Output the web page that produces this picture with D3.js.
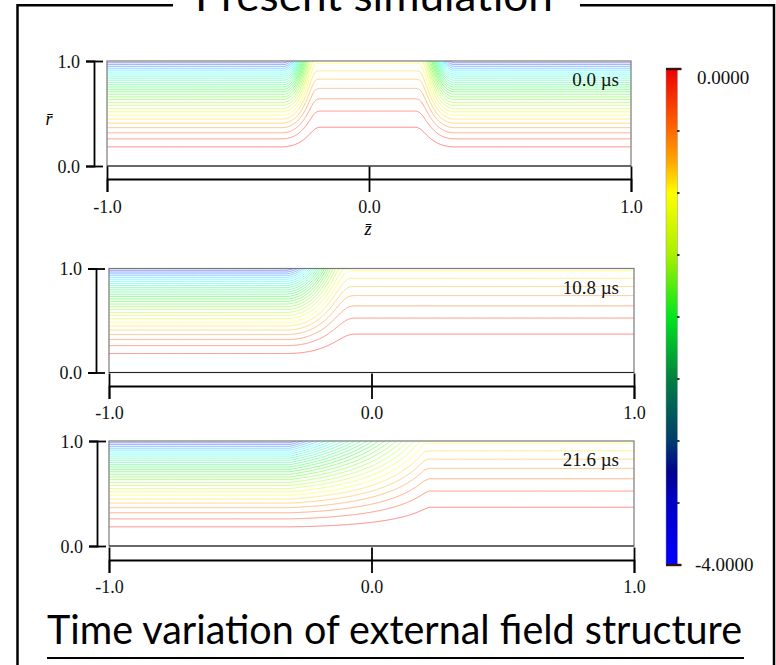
<!DOCTYPE html>
<html><head><meta charset="utf-8">
<script src="https://cdn.jsdelivr.net/npm/d3@7"></script>
<style>body{margin:0;background:#fff} svg{display:block}</style>
</head><body>
<script>
// ---------------- data ----------------
const titleText = "Present simulation";
const footerText = "Time variation of external field structure";
const timeLabels = ["0.0 µs", "10.8 µs", "21.6 µs"];
const xTicks = [-1, 0, 1];
const yTicks = [0, 1];
// contour levels of the flux function (colour-bar units)
const levelValues = [-0.133,-0.267,-0.4,-0.533,-0.667,-0.8,-0.933,-1.067,-1.2,-1.333,-1.467,-1.6,-1.733,-1.867,-2.0,-2.133,-2.267,-2.4,-2.533,-2.667,-2.8,-2.933,-3.067,-3.2,-3.333,-3.467,-3.6,-3.733,-3.867];
// field strength (|psi| at r=1) outside and inside the compressed region
const outerField = 4.0;
const innerField = 0.975;
// field transitions along z, near the axis and near the wall: [zStart, zEnd, from, to]
const axisSteps0 = [[-0.335, -0.185, outerField, innerField], [0.175, 0.325, innerField, outerField]];
const wallSteps0 = [[-0.325, -0.2, outerField, innerField], [0.19, 0.325, innerField, outerField]];
const axisSteps1 = [[-0.32, -0.06, outerField, innerField]];
const wallSteps1 = [[-0.33, -0.08, outerField, innerField]];
const axisSteps2 = [[-0.33, 0.22, outerField, innerField]];
const wallSteps2 = [[-0.31, 0.2, outerField, innerField]];
const axisEase = ["sinInOut", "sinInOut", "sinIn"];
const wallEase = ["sinInOut", "sinInOut", "linear"];
// colour bar
const colorbarValues = [0, -0.5, -0.75, -1.0, -1.5, -2.0, -2.5, -3.0, -3.25, -3.5, -4.0];
const colorbarColors = ["#ee0000", "#ff6a00", "#ffa800", "#ffff00", "#a8f000", "#00e61e", "#008040", "#003c6e", "#000090", "#0000c8", "#0000ff"];
const colorbarTicks = [0, -0.5, -1, -1.5, -2, -2.5, -3, -3.5, -4];
const colorbarLabels = ["0.0000", "-4.0000"];
// line hue per level
const hueLevels = [-0.133, -0.533, -0.933, -2.0, -3.2, -3.867];
const hueValues = [0, 30, 60, 120, 180, 238];

// ---------------- layout ----------------
const W = 776, H = 665;
const panels = [
  {left:107, right:631, top:61, bottom:166, yAxisX:94, xAxisY:179, labelDy:34, axis:axisSteps0, wall:wallSteps0},
  {left:109, right:634, top:268.5, bottom:372.5, yAxisX:96, xAxisY:386, labelDy:33, axis:axisSteps1, wall:wallSteps1},
  {left:109, right:634, top:441, bottom:546, yAxisX:97, xAxisY:560, labelDy:33, axis:axisSteps2, wall:wallSteps2}
];
const serif = "'Liberation Serif','Times New Roman',serif";
const sans = "Lato,'Open Sans',sans-serif";
const easeMap = {sinInOut: d3.easeSinInOut, sinIn: d3.easeSinIn, linear: d3.easeLinear};

const svg = d3.select("body").append("svg").attr("width", W).attr("height", H);
svg.append("rect").attr("width", W).attr("height", H).attr("fill", "#fff");

// frame + title
svg.append("path").attr("d", "M17.5,665 V5.3 H173").attr("fill", "none").attr("stroke", "#000").attr("stroke-width", 2.5);
svg.append("path").attr("d", "M580,5.3 H774 V665").attr("fill", "none").attr("stroke", "#000").attr("stroke-width", 2.5);
svg.append("text").attr("x", 195).attr("y", 11).attr("textLength", 358).attr("lengthAdjust", "spacingAndGlyphs")
  .attr("font-family", sans).attr("font-size", 42).attr("fill", "#000").text(titleText);

// footer
svg.append("text").attr("x", 47).attr("y", 644).attr("textLength", 695).attr("lengthAdjust", "spacingAndGlyphs")
  .attr("font-family", sans).attr("font-size", 40).attr("fill", "#000").text(footerText);
svg.append("line").attr("x1", 47).attr("x2", 744).attr("y1", 658).attr("y2", 658).attr("stroke", "#000").attr("stroke-width", 2);

const hue = d3.scaleLinear().domain(hueLevels).range(hueValues);

function profile(steps, ease) {
  const e = easeMap[ease];
  return z => {
    let v = steps[0][2];
    for (const [z0, z1, a, b] of steps) {
      if (z >= z1) { v = b; continue; }
      if (z > z0) { v = a + (b - a) * e((z - z0) / (z1 - z0)); }
      break;
    }
    return v;
  };
}

const defs = svg.append("defs");

panels.forEach((p, i) => {
  const x = d3.scaleLinear().domain([-1, 1]).range([p.left, p.right]);
  const y = d3.scaleLinear().domain([0, 1]).range([p.bottom, p.top]);
  const g = svg.append("g");
  const clipId = "clip" + i;
  defs.append("clipPath").attr("id", clipId).append("rect")
    .attr("x", p.left).attr("y", p.top).attr("width", p.right - p.left).attr("height", p.bottom - p.top);

  const bAxis = profile(p.axis, axisEase[i]);
  const bWall = profile(p.wall, wallEase[i]);
  const zs = d3.range(-1, 1.00001, 0.0025);

  const lineGen = d3.line().defined(d => d.r !== null).x(d => x(d.z)).y(d => y(d.r));
  const cg = g.append("g").attr("clip-path", `url(#${clipId})`);
  levelValues.forEach(lv => {
    const target = -lv;
    const pts = zs.map(z => {
      const ba = bAxis(z), bw = bWall(z);
      const f = r => (ba * (1 - r) + bw * r) * r * r - target;
      if (f(1) < 0) return {z, r: null};
      let lo = 0, hi = 1;
      for (let k = 0; k < 40; k++) { const m = (lo + hi) / 2; if (f(m) < 0) lo = m; else hi = m; }
      return {z, r: (lo + hi) / 2};
    });
    // extend each segment to the wall where the line leaves the domain
    const out = pts.map((d, j) => {
      if (d.r !== null) return d;
      const prev = pts[j - 1], next = pts[j + 1];
      if ((prev && prev.r !== null) || (next && next.r !== null)) return {z: d.z, r: 1};
      return d;
    });
    cg.append("path").attr("d", lineGen(out)).attr("fill", "none")
      .attr("stroke", d3.hsl(hue(lv), 1, 0.75).formatHex()).attr("stroke-width", 1);
  });

  // plot frame
  g.append("rect").attr("x", p.left).attr("y", p.top).attr("width", p.right - p.left).attr("height", p.bottom - p.top)
    .attr("fill", "none").attr("stroke", "#7a7a7a").attr("stroke-width", 1.2);
  g.append("line").attr("x1", p.left).attr("x2", p.right).attr("y1", p.bottom).attr("y2", p.bottom)
    .attr("stroke", "#222").attr("stroke-width", 1.2);

  // bottom axis
  const xa = g.append("g").attr("transform", `translate(0,${p.xAxisY})`)
    .call(d3.axisBottom(x).tickValues(xTicks).tickFormat(d => d.toFixed(1)).tickSizeOuter(0).tickSize(13));
  xa.select(".domain").attr("stroke-width", 1.8);
  xa.selectAll(".tick line").attr("y1", -12.5).attr("y2", 13).attr("stroke-width", 1.8);
  xa.selectAll(".tick text").attr("y", p.labelDy).attr("dy", null)
    .attr("font-family", serif).attr("font-size", 18).attr("fill", "#111");

  // left axis
  const ya = g.append("g").attr("transform", `translate(${p.yAxisX},0)`)
    .call(d3.axisLeft(y).tickValues(yTicks).tickFormat(d => d.toFixed(1)).tickSizeOuter(0).tickSize(8));
  ya.select(".domain").attr("stroke-width", 1.8);
  ya.selectAll(".tick line").attr("x1", -8).attr("x2", 9).attr("stroke-width", 1.8);
  ya.selectAll(".tick text").attr("x", -14).attr("dy", "0.34em")
    .attr("font-family", serif).attr("font-size", 18).attr("fill", "#111");

  // time label
  g.append("text").attr("x", 619).attr("y", p.top + 25).attr("text-anchor", "end")
    .attr("font-family", serif).attr("font-size", 19).attr("fill", "#111").text(timeLabels[i]);

  if (i === 0) {
    g.append("text").attr("x", 49).attr("y", 125).attr("text-anchor", "middle")
      .attr("font-family", serif).attr("font-style", "italic").attr("font-size", 18).text("r\u0304");
    g.append("text").attr("x", 368).attr("y", 235).attr("text-anchor", "middle")
      .attr("font-family", serif).attr("font-style", "italic").attr("font-size", 18).text("z\u0304");
  }
});

// colour bar
const cb = d3.scaleLinear().domain([0, -4]).range([69, 565]);
const grad = defs.append("linearGradient").attr("id", "cbgrad").attr("x1", 0).attr("x2", 0).attr("y1", 0).attr("y2", 1);
colorbarValues.forEach((v, j) => {
  grad.append("stop").attr("offset", (cb(v) - cb(0)) / (cb(-4) - cb(0))).attr("stop-color", colorbarColors[j]);
});
const cbx = 666, cbw = 11.5;
svg.append("rect").attr("x", cbx).attr("y", cb(0)).attr("width", cbw).attr("height", cb(-4) - cb(0))
  .attr("fill", "url(#cbgrad)").attr("stroke", "#999").attr("stroke-width", 0.5);
svg.selectAll(".cbtick").data(colorbarTicks.slice(1, -1)).join("rect").attr("class", "cbtick")
  .attr("x", cbx + cbw - 0.5).attr("y", d => cb(d) - 1).attr("width", 2.5).attr("height", 2).attr("fill", "#333");
[0, -4].forEach(v => {
  svg.append("rect").attr("x", cbx).attr("y", cb(v) - 1.2).attr("width", 15.5).attr("height", 2.4).attr("fill", "#3a1010");
});
svg.append("text").attr("x", 697).attr("y", 84).attr("font-family", serif).attr("font-size", 19).attr("fill", "#111").text(colorbarLabels[0]);
svg.append("text").attr("x", 695).attr("y", 571).attr("font-family", serif).attr("font-size", 19).attr("fill", "#111").text(colorbarLabels[1]);
</script>
</body></html>
